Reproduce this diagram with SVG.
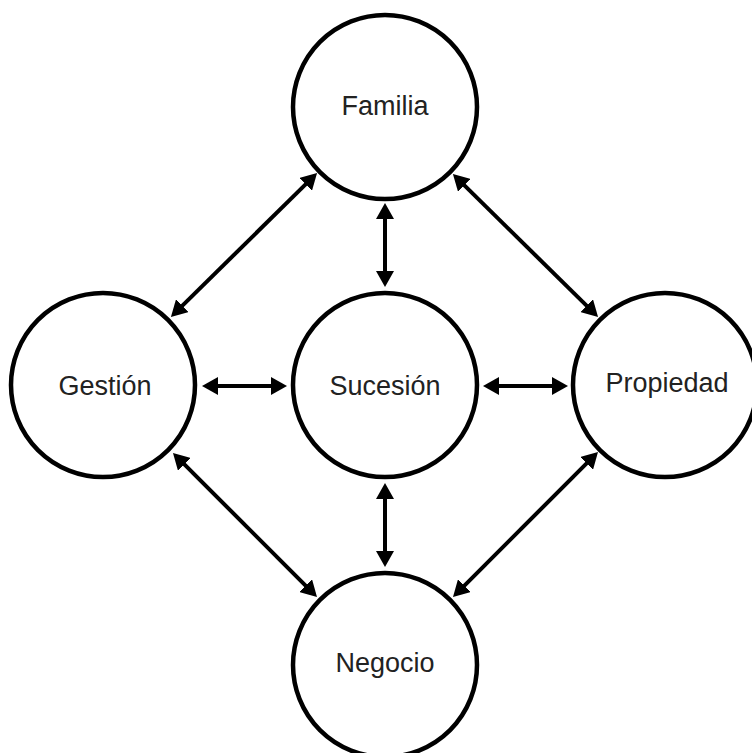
<svg xmlns="http://www.w3.org/2000/svg" width="752" height="753" viewBox="0 0 752 753">
<style>
.node circle{fill:#fff;stroke:#000;stroke-width:4.5}
.node text{font-family:"Liberation Sans",Arial,sans-serif;font-size:27px;fill:#222;text-anchor:middle}
.conn line{stroke:#000;stroke-width:4;marker-start:url(#ah);marker-end:url(#ah)}
</style>
<defs>
<marker id="ah" markerUnits="userSpaceOnUse" markerWidth="16" markerHeight="18" refX="2" refY="9" orient="auto-start-reverse" viewBox="0 0 16 18">
<path d="M0,0 L16,9 L0,18 z" fill="#000"/>
</marker>
</defs>
<rect width="752" height="753" fill="#fff"/>
<g id="connectors" class="conn">
<line x1="385" y1="217" x2="385" y2="273"/>
<line x1="385" y1="497" x2="385" y2="553"/>
<line x1="216" y1="386" x2="273" y2="386"/>
<line x1="497" y1="386" x2="554" y2="386"/>
<line x1="307.1" y1="182.9" x2="180.9" y2="307.1"/>
<line x1="462.9" y1="183.9" x2="588.1" y2="307.1"/>
<line x1="182.9" y1="462.9" x2="307.1" y2="587.1"/>
<line x1="588.1" y1="461.9" x2="462.9" y2="587.1"/>
</g>
<g id="familia" class="node"><circle cx="385" cy="107" r="92"/><text x="385" y="115">Familia</text></g>
<g id="gestion" class="node"><circle cx="103" cy="385" r="92"/><text x="105" y="395">Gestión</text></g>
<g id="sucesion" class="node"><circle cx="385" cy="385" r="92"/><text x="385" y="395">Sucesión</text></g>
<g id="propiedad" class="node"><circle cx="665" cy="385" r="92"/><text x="667" y="392">Propiedad</text></g>
<g id="negocio" class="node"><circle cx="385" cy="665" r="92"/><text x="385" y="672">Negocio</text></g>
</svg>
